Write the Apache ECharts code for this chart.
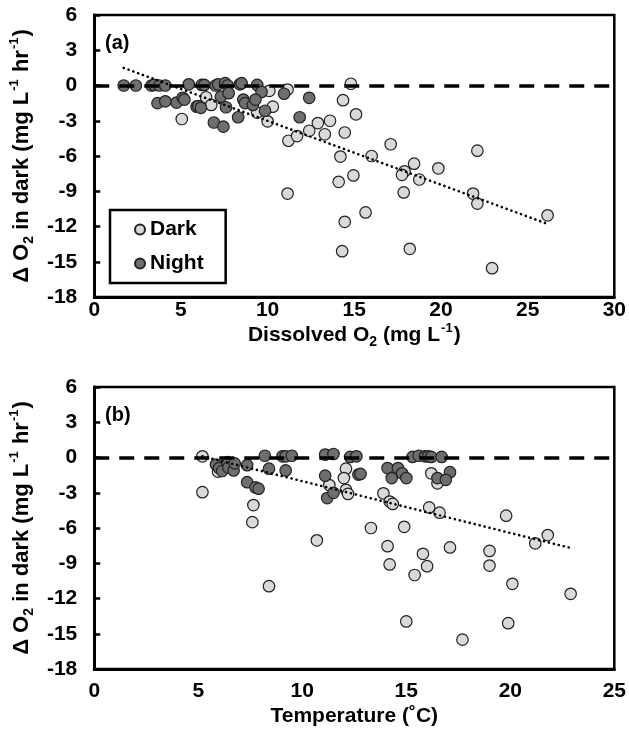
<!DOCTYPE html>
<html>
<head>
<meta charset="utf-8">
<script src="https://cdn.jsdelivr.net/npm/echarts@6/dist/echarts.min.js"></script>
<style>
  html, body { margin: 0; padding: 0; background: #fff; }
  #chart { width: 629px; height: 739px; }
</style>
</head>
<body>
<div id="chart"></div>
<script>
// panel (a): dissolved O2 (mg/L) vs change in O2 in dark
var o2Dark = [
  [14.8, 0.15], [10.1, -0.45], [11.15, -0.35], [6.45, -1.0], [6.75, -1.65], [5.05, -2.85],
  [9.4, -2.3], [10.0, -3.05], [10.3, -1.8], [14.35, -1.25], [15.1, -2.45], [11.2, -4.7],
  [11.7, -4.3], [12.4, -3.85], [12.9, -3.2], [13.3, -4.15], [13.6, -3.0], [14.45, -4.0],
  [14.2, -6.05], [14.95, -7.65], [14.1, -8.2], [11.15, -9.2], [14.45, -11.6], [14.3, -14.1],
  [17.1, -5.0], [22.1, -5.55], [16.0, -6.0], [17.9, -7.3], [17.75, -7.6], [18.45, -6.65],
  [18.75, -8.0], [19.85, -7.05], [17.85, -9.1], [21.85, -9.2], [22.1, -10.05], [26.15, -11.05],
  [15.65, -10.8], [18.2, -13.9], [22.95, -15.55]
];
var o2Night = [
  [1.7, 0], [2.4, 0], [3.3, 0], [3.45, 0.05], [3.75, 0], [4.1, 0], [5.45, 0.1], [6.2, 0.05],
  [6.35, 0.05], [7.0, 0], [7.15, 0.1], [7.55, 0.2], [7.7, 0], [8.4, 0.1], [8.5, 0.2], [9.4, 0.05],
  [9.65, -0.55], [10.95, -0.7], [12.4, -1.05], [11.85, -2.7], [3.65, -1.5], [4.1, -1.35],
  [4.75, -1.45], [5.1, -1.05], [5.2, -1.2], [5.9, -1.8], [6.0, -1.75], [6.15, -1.9], [6.9, -3.15],
  [7.45, -3.5], [7.3, -0.95], [7.75, -0.65], [7.6, -1.85], [8.3, -2.7], [8.6, -1.2], [8.7, -1.5],
  [9.15, -1.65], [9.3, -1.2], [9.85, -2.15]
];
var o2Trend = [[1.7, 1.5], [26.0, -11.7]];

// panel (b): temperature (C) vs change in O2 in dark
var tempDark = [
  [5.2, 0.1], [5.2, -2.95], [5.95, -1.2], [7.65, -4.05], [7.6, -5.5], [12.1, -0.95], [12.0, -1.75],
  [11.3, -2.35], [12.1, -2.75], [12.2, -3.1], [16.2, -1.35], [16.5, -2.2], [13.9, -3.05],
  [14.2, -3.75], [14.35, -3.95], [16.1, -4.25], [16.6, -4.7], [19.8, -4.95], [13.3, -6.0],
  [14.9, -5.9], [21.8, -6.6], [21.2, -7.3], [14.1, -7.55], [17.1, -7.65], [15.8, -8.2],
  [19.0, -7.95], [14.2, -9.1], [16.0, -9.25], [19.0, -9.2], [15.4, -10.0], [20.1, -10.75],
  [22.9, -11.6], [15.0, -13.95], [19.9, -14.1], [17.7, -15.5], [10.7, -7.05], [8.4, -10.95]
];
var tempNight = [
  [5.85, -0.6], [6.0, -0.9], [6.15, -1.15], [6.4, -0.4], [6.45, -0.85], [6.7, -1.1], [6.75, -0.5],
  [7.35, -0.65], [8.2, 0.15], [8.4, -0.95], [9.05, 0.1], [9.2, 0.1], [9.5, 0.15], [9.2, -1.1],
  [7.35, -2.1], [7.75, -2.55], [7.9, -2.65], [11.1, 0.25], [11.5, 0.3], [11.1, -1.55],
  [11.2, -3.45], [11.5, -3.0], [12.3, 0.05], [12.6, 0.1], [12.7, -1.45], [12.8, -1.4],
  [14.1, -0.9], [14.6, -0.9], [14.8, -1.35], [15.0, -1.75], [14.3, -1.75], [15.3, 0.05],
  [15.6, 0.15], [15.9, 0.1], [16.05, 0.1], [16.2, 0.05], [16.7, 0.05], [17.1, -1.25],
  [16.5, -1.75], [16.9, -1.9]
];
var tempTrend = [[5.2, 0.1], [22.9, -7.7]];

var yMin = -18, yMax = 6, yStep = 3;

var FONT = 'Liberation Sans, Arial, sans-serif';
function richSet(size) {
  return {
    n: { fontSize: size, fontWeight: 'bold', fontFamily: FONT, color: '#000', lineHeight: size + 6, verticalAlign: 'middle' },
    sub: { fontSize: Math.round(size * 0.65), fontWeight: 'bold', fontFamily: FONT, color: '#000', lineHeight: 12, verticalAlign: 'bottom' },
    sup: { fontSize: Math.round(size * 0.6), fontWeight: 'bold', fontFamily: FONT, color: '#000', lineHeight: 12, verticalAlign: 'top', padding: [0, 1, 0, 1] }
  };
}
var yName = '{n|\u0394 O}{sub|2}{n| in dark (mg L}{sup|-1}{n| hr}{sup|-1}{n|)}';

function yAxisFor(idx) {
  return {
    type: 'value', gridIndex: idx, min: yMin, max: yMax, interval: yStep,
    name: yName, nameLocation: 'middle', nameGap: 53, nameRotate: 90,
    nameTextStyle: { rich: richSet(22) },
    splitLine: { show: false },
    axisLine: { show: true, onZero: false, lineStyle: { color: '#000', width: 3 } },
    axisTick: { show: true, inside: true, length: 6, lineStyle: { color: '#000', width: 2.5 } },
    axisLabel: { margin: 17, color: '#000', fontSize: 21, fontWeight: 'bold', fontFamily: FONT }
  };
}

function pts(name, data, xi, fill, z) {
  return {
    name: name, type: 'scatter', xAxisIndex: xi, yAxisIndex: xi, data: data, z: z,
    symbol: 'circle', symbolSize: 11.5,
    itemStyle: { color: fill, borderColor: '#222', borderWidth: 1.2, opacity: 1 }
  };
}

function trend(data, xi) {
  return {
    type: 'line', xAxisIndex: xi, yAxisIndex: xi, data: data, z: 5, silent: true,
    symbol: 'none',
    lineStyle: { color: '#000', width: 2.6, type: [0.1, 5], cap: 'round' }
  };
}

function zeroLine(xi) {
  return {
    type: 'line', xAxisIndex: xi, yAxisIndex: xi, data: [], z: 1, silent: true,
    markLine: {
      silent: true, symbol: 'none', label: { show: false },
      lineStyle: { color: '#000', width: 3.5, type: [15, 10] },
      data: [{ yAxis: 0 }]
    }
  };
}

var chart = echarts.init(document.getElementById('chart'));
chart.setOption({
  animation: false,
  backgroundColor: '#fff',
  title: [
    { text: '(a)', left: 100, top: 28, textStyle: { fontSize: 20, fontWeight: 'bold', fontFamily: FONT, color: '#000' } },
    { text: '(b)', left: 100, top: 400, textStyle: { fontSize: 20, fontWeight: 'bold', fontFamily: FONT, color: '#000' } }
  ],
  legend: {
    data: ['Dark', 'Night'],
    orient: 'vertical', left: 110, top: 210,
    padding: [9, 22, 9, 24], itemGap: 13,
    itemWidth: 10, itemHeight: 10, icon: 'circle',
    borderColor: '#000', borderWidth: 2.5,
    textStyle: { fontSize: 21, fontWeight: 'bold', fontFamily: FONT, color: '#000' }
  },
  grid: [
    { left: 93, right: 14, top: 15, height: 282, show: true, borderColor: '#000', borderWidth: 2.5 },
    { left: 93, right: 14, top: 387, height: 282, show: true, borderColor: '#000', borderWidth: 2.5 }
  ],
  xAxis: [
    {
      type: 'value', gridIndex: 0, min: 0, max: 30, interval: 5,
      name: '{n|Dissolved O}{sub|2}{n| (mg L}{sup|-1}{n|)}', nameLocation: 'middle', nameGap: 15,
      nameTextStyle: { rich: richSet(21) },
      splitLine: { show: false },
      axisLine: { show: true, onZero: false, lineStyle: { color: '#000', width: 3 } },
      axisTick: { show: false },
      axisLabel: { margin: 3, color: '#000', fontSize: 21, fontWeight: 'bold', fontFamily: FONT }
    },
    {
      type: 'value', gridIndex: 1, min: 0, max: 25, interval: 5,
      name: 'Temperature (\u02daC)', nameLocation: 'middle', nameGap: 37,
      nameTextStyle: { fontSize: 21, fontWeight: 'bold', fontFamily: FONT, color: '#000' },
      splitLine: { show: false },
      axisLine: { show: true, onZero: false, lineStyle: { color: '#000', width: 3 } },
      axisTick: { show: false },
      axisLabel: { margin: 12, color: '#000', fontSize: 21, fontWeight: 'bold', fontFamily: FONT }
    }
  ],
  yAxis: [yAxisFor(0), yAxisFor(1)],
  series: [
    zeroLine(0),
    pts('Dark', o2Dark, 0, '#d9d9d9', 2),
    pts('Night', o2Night, 0, '#6e6e6e', 3),
    trend(o2Trend, 0),
    zeroLine(1),
    pts('Dark', tempDark, 1, '#d9d9d9', 2),
    pts('Night', tempNight, 1, '#6e6e6e', 3),
    trend(tempTrend, 1)
  ]
});
</script>
</body>
</html>
